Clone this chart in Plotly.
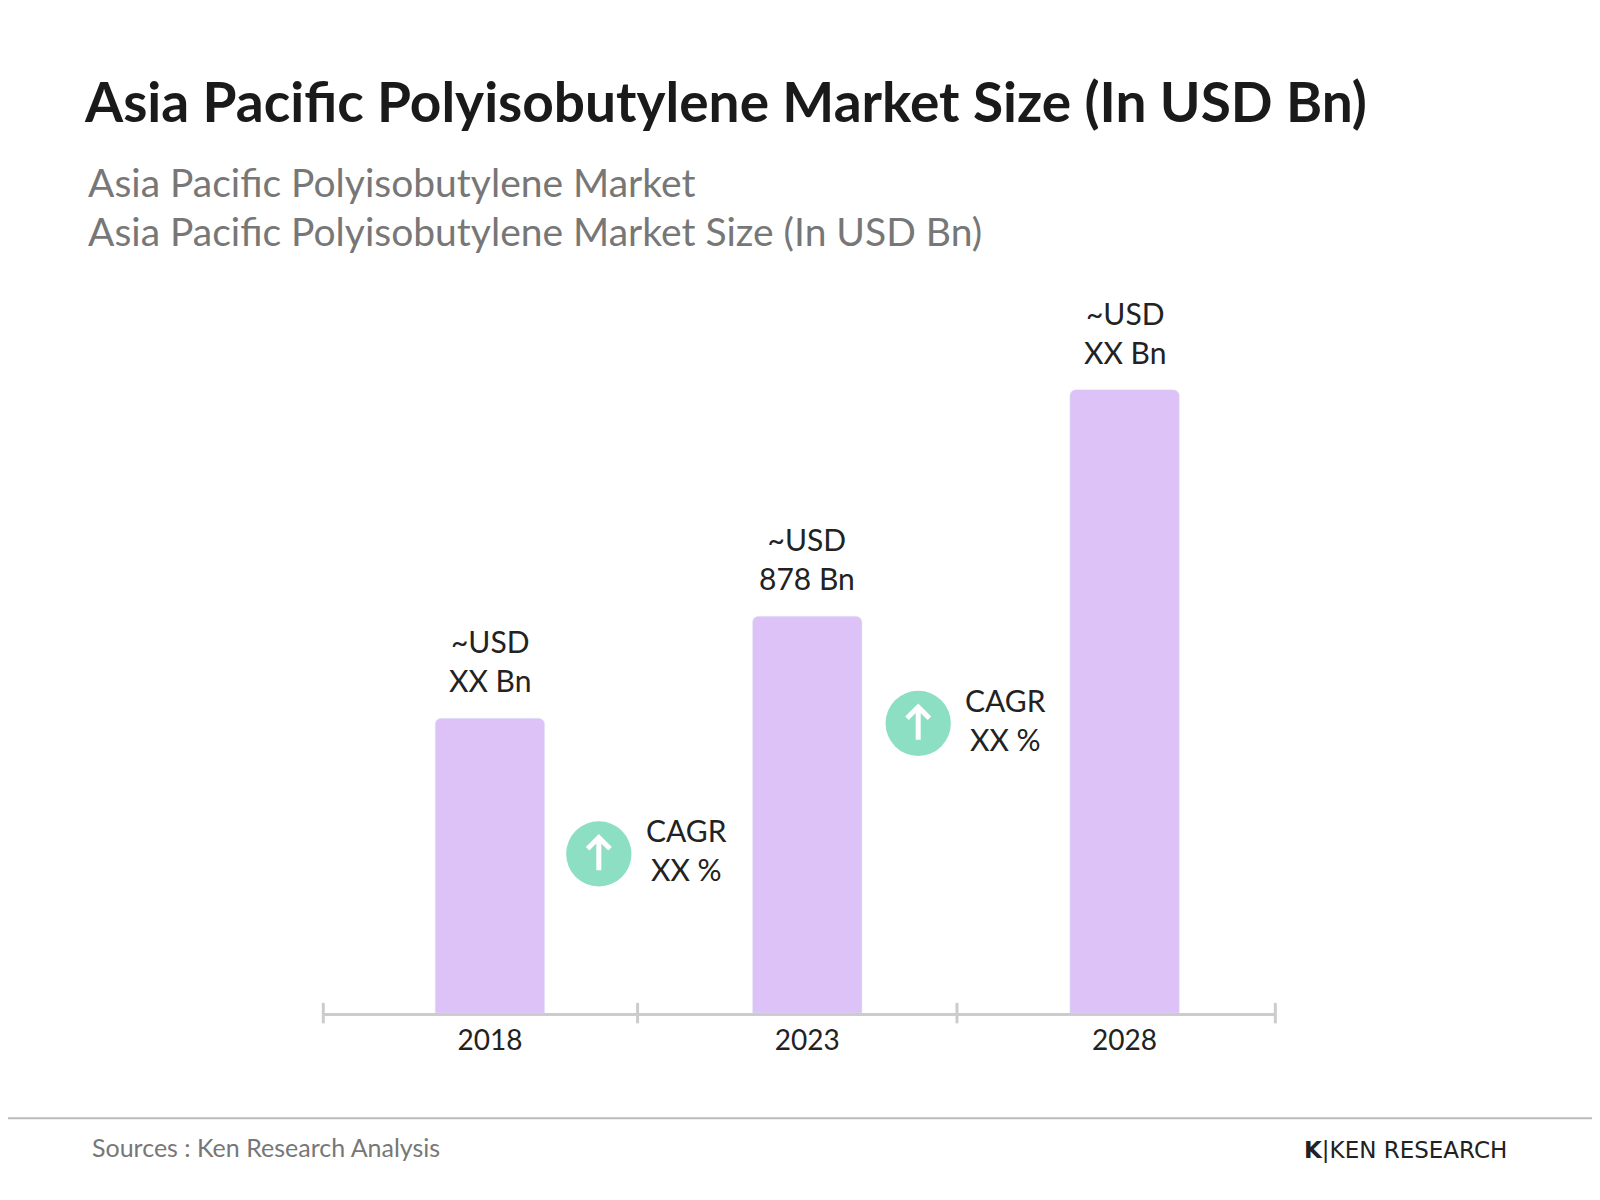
import plotly.graph_objects as go

years = ["2018", "2023", "2028"]
values = [289, 389, 611]
value_labels = ["~USD<br>XX Bn", "~USD<br>878 Bn", "~USD<br>XX Bn"]
cagr_labels = ["CAGR<br>XX %", "CAGR<br>XX %"]

W, H = 1600, 1200
DW, DH = 1568, 1176
def px(x): return x / DW
def py(y): return 1 - y / DH

fig = go.Figure()
fig.add_trace(go.Bar(x=years, y=values, width=0.345, marker=dict(color="#dcc2f7", cornerradius=6),
                     hoverinfo="skip"))
for i, (v, t) in enumerate(zip(values, value_labels)):
    fig.add_annotation(x=i, y=v, text=t, showarrow=False, yanchor="bottom", yshift=18,
                       font=dict(size=30, color="#222"))

ytop = 273
yrange = 985 - ytop
fig.update_layout(
    width=W, height=H, margin=dict(l=0, r=0, t=0, b=0),
    plot_bgcolor="white", paper_bgcolor="white", showlegend=False,
    font=dict(family="Lato, Open Sans, sans-serif"),
    xaxis=dict(type="category", domain=[px(309), px(1242)], range=[-0.525, 2.475], showgrid=False,
               showline=True, linecolor="#cccccc", linewidth=3, ticks="",
               tickfont=dict(size=28, color="#222")),
    yaxis=dict(domain=[py(985), py(ytop)], range=[0, yrange], visible=False),
)
for xp in [309, 617, 930, 1242]:
    fig.add_shape(type="line", xref="paper", yref="paper", x0=px(xp), x1=px(xp), y0=py(975), y1=py(995),
                  line=dict(color="#cccccc", width=3))

badges = [(579, 829, 665, 863), (892, 701, 978, 697)]
for (cx, cy, tx, ty), lab in zip(badges, cagr_labels):
    r = 32
    fig.add_shape(type="circle", xref="paper", yref="paper", x0=px(cx - r), x1=px(cx + r),
                  y0=py(cy + r), y1=py(cy - r), fillcolor="#8ddfc3", line=dict(width=0))
    path = (f"M {px(cx)} {py(cy + 16)} L {px(cx)} {py(cy - 16)} "
            f"M {px(cx - 11)} {py(cy - 5)} L {px(cx)} {py(cy - 16)} L {px(cx + 11)} {py(cy - 5)}")
    fig.add_shape(type="path", xref="paper", yref="paper", path=path,
                  line=dict(color="white", width=5))
    fig.add_annotation(xref="paper", yref="paper", x=px(tx), y=py(ty), text=lab,
                       showarrow=False, font=dict(size=30, color="#222"))

fig.add_annotation(xref="paper", yref="paper", x=px(73), y=py(57), xanchor="left",
                   text="<b>Asia Pacific Polyisobutylene Market Size (In USD Bn)</b>",
                   showarrow=False, font=dict(size=55, color="#1a1a1a"))
fig.add_annotation(xref="paper", yref="paper", x=px(76), y=py(146), xanchor="left",
                   text="Asia Pacific Polyisobutylene Market", showarrow=False,
                   font=dict(size=39, color="#777"))
fig.add_annotation(xref="paper", yref="paper", x=px(76), y=py(194), xanchor="left",
                   text="Asia Pacific Polyisobutylene Market Size (In USD Bn)", showarrow=False,
                   font=dict(size=39, color="#777"))
fig.add_shape(type="line", xref="paper", yref="paper", x0=0, x1=1, y0=py(1088), y1=py(1088),
              line=dict(color="#bbbbbb", width=2))
fig.add_annotation(xref="paper", yref="paper", x=px(80), y=py(1133), xanchor="left",
                   text="Sources : Ken Research Analysis", showarrow=False,
                   font=dict(size=25, color="#777"))
fig.add_annotation(xref="paper", yref="paper", x=px(1471), y=py(1134), xanchor="right",
                   text="<b>K</b>|KEN RESEARCH", showarrow=False,
                   font=dict(size=23, color="#222", family="DejaVu Sans"))

fig.write_html("out.html")
